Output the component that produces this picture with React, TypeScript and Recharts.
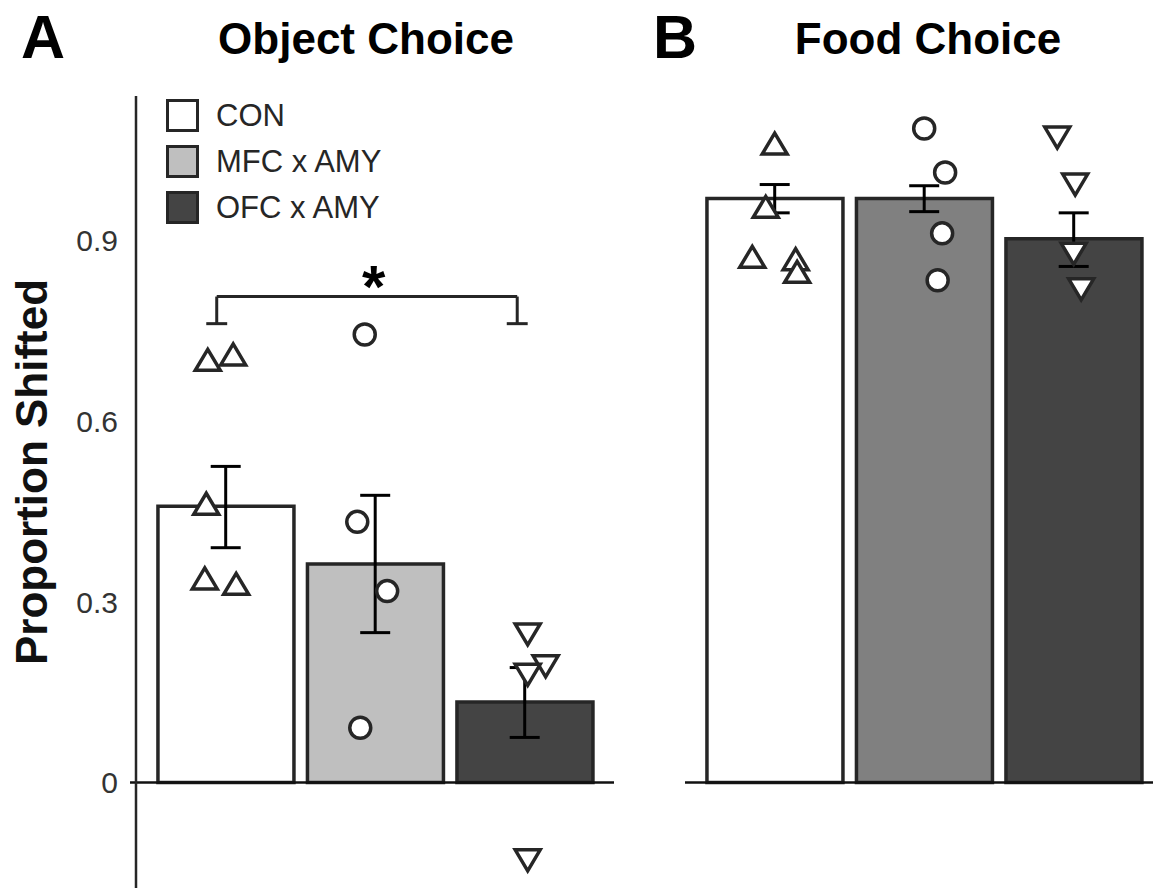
import React from 'react';
import { ComposedChart, Bar, Cell, Scatter, ErrorBar, XAxis, YAxis, ReferenceLine, ReferenceDot, Legend } from 'recharts';

const groups = ['CON', 'MFC x AMY', 'OFC x AMY'];

// panel A - object choice
const objectMeans = [0.459, 0.363, 0.134];
const objectLow = [0.39, 0.249, 0.075];
const objectHigh = [0.525, 0.477, 0.191];
const objectCon = [
    { x: 0.88, y: 0.702 }, { x: 1.05, y: 0.711 }, { x: 0.87, y: 0.463 }, { x: 0.86, y: 0.339 }, { x: 1.07, y: 0.33 },
];
const objectMfc = [{ x: 1.93, y: 0.744 }, { x: 1.88, y: 0.433 }, { x: 2.08, y: 0.318 }, { x: 1.9, y: 0.091 }];
const objectOfc = [{ x: 3.02, y: 0.246 }, { x: 3.14, y: 0.193 }, { x: 3.02, y: 0.179 }, { x: 3.02, y: -0.129 }];

// panel B - food choice
const foodMeans = [0.97, 0.97, 0.903];
const foodLow = [0.946, 0.948, 0.857];
const foodHigh = [0.993, 0.991, 0.946];
const foodCon = [
    { x: 1.0, y: 1.061 }, { x: 0.94, y: 0.956 }, { x: 0.85, y: 0.873 }, { x: 1.14, y: 0.869 }, { x: 1.15, y: 0.848 },
];
const foodMfc = [{ x: 2.0, y: 1.086 }, { x: 2.14, y: 1.013 }, { x: 2.12, y: 0.912 }, { x: 2.09, y: 0.834 }];
const foodOfc = [{ x: 2.89, y: 1.071 }, { x: 3.01, y: 0.993 }, { x: 3.0, y: 0.878 }, { x: 3.05, y: 0.819 }];

const yTicks = [0, 0.3, 0.6, 0.9];

const INK = '#262626';
const objectFills = ['#ffffff', '#bfbfbf', '#444444'];
const foodFills = ['#ffffff', '#808080', '#444444'];

const UNIT = 149.5; // px per group on both panels
const AXIS_W = 136;

const TriUp = (p: any) => (
    <path d={`M${p.cx},${p.cy - 10.5} L${p.cx + 12.5},${p.cy + 10.5} L${p.cx - 12.5},${p.cy + 10.5} Z`}
        fill="#fff" stroke={INK} strokeWidth={3.5} />
);
const TriDown = (p: any) => (
    <path d={`M${p.cx},${p.cy + 10.5} L${p.cx + 12.5},${p.cy - 10.5} L${p.cx - 12.5},${p.cy - 10.5} Z`}
        fill="#fff" stroke={INK} strokeWidth={3.5} />
);
const Ring = (p: any) => <circle cx={p.cx} cy={p.cy} r={10.5} fill="#fff" stroke={INK} strokeWidth={3.5} />;

const LegendBox = () => (
    <div style={{ fontSize: 31, color: INK, lineHeight: 1 }}>
        {groups.map((g, i) => (
            <div key={g} style={{ display: 'flex', alignItems: 'center', height: 46 }}>
                <span style={{
                    display: 'inline-block', width: 33, height: 33, boxSizing: 'border-box',
                    border: `3.5px solid ${INK}`, background: objectFills[i], marginRight: 17,
                }} />
                <span>{g}</span>
            </div>
        ))}
    </div>
);

interface PanelProps {
    means: number[];
    low: number[];
    high: number[];
    con: { x: number; y: number }[];
    mfc: { x: number; y: number }[];
    ofc: { x: number; y: number }[];
    fills: string[];
    width: number;
    showAxis: boolean;
    children?: React.ReactNode;
}

function Panel({ means, low, high, con, mfc, ofc, fills, width, showAxis, children }: PanelProps) {
    const bars = groups.map((g, i) => ({ name: g, value: means[i] }));
    const sem = groups.map((g, i) => ({ x: i + 1, y: means[i], err: [means[i] - low[i], high[i] - means[i]] }));
    const plotW = width - (showAxis ? AXIS_W : 0);
    const xMin = 0.4;
    const xMax = xMin + plotW / UNIT;
    const padL = (0.5 - xMin) * UNIT;
    const padR = plotW - padL - 3 * UNIT;
    return (
        <ComposedChart width={width} height={890} data={bars} margin={{ top: 96, right: 0, bottom: 2, left: 0 }}>
            <XAxis xAxisId="cat" type="category" dataKey="name" padding={{ left: padL, right: padR }} hide />
            <XAxis xAxisId="num" type="number" dataKey="x" domain={[xMin, xMax]} allowDataOverflow hide />
            <YAxis
                type="number"
                domain={[-0.175, 1.14]}
                allowDataOverflow
                ticks={yTicks}
                hide={!showAxis}
                width={AXIS_W}
                axisLine={{ stroke: INK, strokeWidth: 2.5 }}
                tickLine={false}
                tickMargin={12}
                tick={{ fontSize: 30, fill: '#333' }}
                tickFormatter={(v: number) => (v === 0 ? '0' : v.toFixed(1))}
            />
            <Bar xAxisId="cat" dataKey="value" barSize={136} stroke={INK} strokeWidth={3.5} isAnimationActive={false}>
                {fills.map((f, i) => <Cell key={i} fill={f} />)}
            </Bar>
            <ReferenceLine
                xAxisId="num"
                segment={[{ x: showAxis ? xMin - 0.04 : xMin, y: 0 }, { x: xMax, y: 0 }]}
                stroke="#111"
                strokeWidth={2.5}
                ifOverflow="visible"
            />
            <Scatter xAxisId="num" data={con} dataKey="y" shape={TriUp} isAnimationActive={false} />
            <Scatter xAxisId="num" data={mfc} dataKey="y" shape={Ring} isAnimationActive={false} />
            <Scatter xAxisId="num" data={ofc} dataKey="y" shape={TriDown} isAnimationActive={false} />
            <Scatter xAxisId="num" data={sem} dataKey="y" shape={() => <g />} isAnimationActive={false}>
                <ErrorBar dataKey="err" direction="y" width={15} stroke="#000" strokeWidth={3} />
            </Scatter>
            {children}
        </ComposedChart>
    );
}

const bracket = (a: { x: number; y: number }, b: { x: number; y: number }, k: string) => (
    <ReferenceLine key={k} xAxisId="num" segment={[a, b]} stroke={INK} strokeWidth={3} ifOverflow="visible" />
);

export default function App() {
    return (
        <div style={{
            position: 'absolute', left: 0, top: 0, width: 1153, height: 890, overflow: 'hidden',
            background: '#fff', fontFamily: '"Liberation Sans", Arial, Helvetica, sans-serif',
        }}>
            <div style={{ position: 'absolute', left: 0, top: 0 }}>
                <Panel means={objectMeans} low={objectLow} high={objectHigh} con={objectCon} mfc={objectMfc}
                    ofc={objectOfc} fills={objectFills} width={614} showAxis>
                    {bracket({ x: 0.94, y: 0.807 }, { x: 2.95, y: 0.807 }, 'top')}
                    {bracket({ x: 0.94, y: 0.807 }, { x: 0.94, y: 0.762 }, 'l')}
                    {bracket({ x: 2.95, y: 0.807 }, { x: 2.95, y: 0.762 }, 'r')}
                    {bracket({ x: 0.87, y: 0.762 }, { x: 1.01, y: 0.762 }, 'lc')}
                    {bracket({ x: 2.88, y: 0.762 }, { x: 3.02, y: 0.762 }, 'rc')}
                    <ReferenceDot xAxisId="num" x={1.99} y={0.844} r={0} ifOverflow="visible"
                        shape={(p: any) => (
                            <text x={p.cx} y={p.cy + 33} textAnchor="middle" fontSize={60} fontWeight="bold" fill="#000">*</text>
                        )} />
                    <Legend layout="vertical" align="center" verticalAlign="middle" content={LegendBox}
                        wrapperStyle={{ position: 'absolute', left: 166, top: 92, width: 'auto', height: 'auto' }} />
                </Panel>
            </div>
            <div style={{ position: 'absolute', left: 685, top: 0 }}>
                <Panel means={foodMeans} low={foodLow} high={foodHigh} con={foodCon} mfc={foodMfc}
                    ofc={foodOfc} fills={foodFills} width={468} showAxis={false} />
            </div>
            <svg width={1153} height={890} style={{ position: 'absolute', left: 0, top: 0, pointerEvents: 'none' }}>
                <text x={21} y={58} fontSize={61} fontWeight="bold" fill="#000">A</text>
                <text x={653} y={58} fontSize={61} fontWeight="bold" fill="#000">B</text>
                <text x={366} y={54} fontSize={44} fontWeight="bold" textAnchor="middle" fill="#000">Object Choice</text>
                <text x={928} y={54} fontSize={44} fontWeight="bold" textAnchor="middle" fill="#000">Food Choice</text>
                <text x={0} y={0} fontSize={44} fontWeight="bold" textAnchor="middle" fill="#111"
                    transform="translate(47,472) rotate(-90)">Proportion Shifted</text>
            </svg>
        </div>
    );
}
